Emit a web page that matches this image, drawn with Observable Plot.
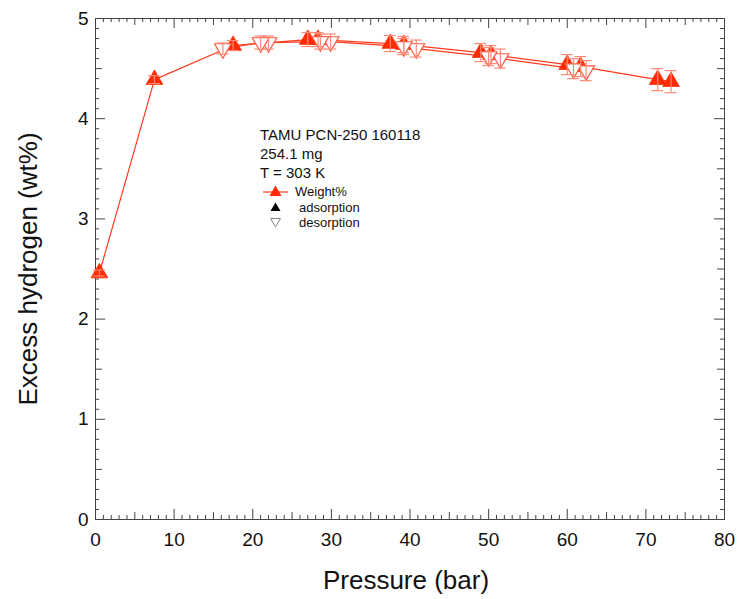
<!DOCTYPE html>
<html><head><meta charset="utf-8">
<script src="https://cdn.jsdelivr.net/npm/d3@7"></script>
<script src="https://cdn.jsdelivr.net/npm/@observablehq/plot@0.6"></script>
<style>
body{margin:0;background:#fff;}
#wrap{position:relative;width:738px;height:599px;font-family:"Liberation Sans",Arial,sans-serif;color:#111;}
.t{position:absolute;white-space:nowrap;line-height:1;}
</style></head><body>
<div id="wrap"></div>
<script>
// Adsorption branch (filled triangles)
const adsPressure = [0.5, 7.5, 17.5, 27.0, 28.3, 37.5, 39.2, 49.0, 50.3, 60.0, 61.7, 71.5, 73.2];
const adsWeight   = [2.46, 4.39, 4.73, 4.79, 4.79, 4.75, 4.74, 4.66, 4.64, 4.54, 4.52, 4.39, 4.37];
const adsError    = [0.03, 0.04, 0.05, 0.07, 0.07, 0.08, 0.08, 0.09, 0.09, 0.10, 0.10, 0.11, 0.11];
// Desorption branch (open triangles)
const desPressure = [62.4, 60.8, 51.5, 50.0, 40.8, 39.2, 29.9, 28.6, 22.0, 21.0, 16.2];
const desWeight   = [4.48, 4.50, 4.60, 4.62, 4.70, 4.72, 4.77, 4.77, 4.76, 4.76, 4.70];
const desError    = [0.10, 0.10, 0.095, 0.09, 0.085, 0.08, 0.075, 0.075, 0.065, 0.065, 0.055];
// Axis ticks
const xTickLabels = [0, 10, 20, 30, 40, 50, 60, 70, 80];
const yTickLabels = [0, 1, 2, 3, 4, 5];
// Annotation text
const infoLines = ["TAMU PCN-250 160118", "254.1 mg", "T = 303 K"];
const legendLabels = ["Weight%", "adsorption", "desorption"];

const W = 738, H = 599, mL = 95, mR = 14, mT = 18, mB = 80;
const innerW = W - mL - mR, innerH = H - mT - mB;
const red = "#ff2a00", errColor = "#ff8a78", lineColor = "#ff3b1f", axisColor = "#444";

const ads = adsPressure.map((p, i) => ({p, w: adsWeight[i], e: adsError[i]}));
const des = desPressure.map((p, i) => ({p, w: desWeight[i], e: desError[i]}));
const all = ads.concat(des);

const xMinor = d3.range(0, 81, 1).filter(v => v % 5 !== 0);
const xMid = d3.range(5, 80, 10);
const yMinor = d3.range(0, 51, 1).map(v => v / 10).filter((v, i) => i % 5 !== 0);
const yMid = d3.range(0.5, 5, 1);

function xTicks(vals, len) {
  return [
    Plot.ruleX(vals, {stroke: axisColor, insetTop: innerH - len}),
    Plot.ruleX(vals, {stroke: axisColor, insetBottom: innerH - len})
  ];
}
function yTicks(vals, len) {
  return [
    Plot.ruleY(vals, {stroke: axisColor, insetRight: innerW - len}),
    Plot.ruleY(vals, {stroke: axisColor, insetLeft: innerW - len})
  ];
}

const chart = Plot.plot({
  width: W, height: H,
  marginLeft: mL, marginRight: mR, marginTop: mT, marginBottom: mB,
  style: {fontFamily: "'Liberation Sans', Arial, sans-serif", background: "#fff", color: "#111", overflow: "visible"},
  x: {domain: [0, 80]},
  y: {domain: [0, 5]},
  marks: [
    ...xTicks(xMinor, 4), ...xTicks(xMid, 7), ...xTicks(xTickLabels, 10),
    ...yTicks(yMinor, 4), ...yTicks(yMid, 7), ...yTicks(yTickLabels, 10),
    Plot.frame({stroke: axisColor}),
    Plot.axisX(xTickLabels, {tickSize: 0, tickPadding: 13, fontSize: 19, label: null, tickFormat: d => String(d)}),
    Plot.axisY(yTickLabels, {tickSize: 0, tickPadding: 7, fontSize: 19, label: null, tickFormat: d => String(d)}),
    Plot.text(["Pressure (bar)"], {frameAnchor: "bottom", dx: -4, dy: 61, fontSize: 26, lineAnchor: "middle", textAnchor: "middle"}),
    Plot.text(["Excess hydrogen (wt%)"], {frameAnchor: "left", dx: -67, rotate: -90, fontSize: 26, lineAnchor: "middle", textAnchor: "middle"}),
    Plot.line(ads, {x: "p", y: "w", stroke: lineColor, strokeWidth: 1.2}),
    Plot.line(des, {x: "p", y: "w", stroke: lineColor, strokeWidth: 1.2}),
    Plot.dot(ads, {x: "p", y: "w", symbol: "triangle", r: 6.2, fill: red, stroke: red, strokeWidth: 0.8}),
    Plot.dot(des, {x: "p", y: "w", symbol: "triangle", rotate: 180, r: 6.2, fill: "white", stroke: "#ff5a40", strokeWidth: 1.2}),
    Plot.ruleX(all, {x: "p", y1: d => d.w - d.e, y2: d => d.w + d.e, stroke: errColor, strokeWidth: 1.2}),
    Plot.ruleY(all, {y: d => d.w + d.e, x1: d => d.p - 0.75, x2: d => d.p + 0.75, stroke: errColor, strokeWidth: 1.2}),
    Plot.ruleY(all, {y: d => d.w - d.e, x1: d => d.p - 0.75, x2: d => d.p + 0.75, stroke: errColor, strokeWidth: 1.2})
  ]
});

const wrap = document.getElementById("wrap");
wrap.appendChild(chart);

// Annotation block
infoLines.forEach((s, i) => {
  const d = document.createElement("div");
  d.className = "t";
  d.style.left = "260px";
  d.style.top = (127 + i * 19) + "px";
  d.style.fontSize = "15px";
  d.textContent = s;
  wrap.appendChild(d);
});
const symbols = [
  `<svg width="30" height="14" style="position:absolute;left:0;top:0"><line x1="2" y1="8" x2="27" y2="8" stroke="${lineColor}" stroke-width="1.2"/><path d="M14.5,1.5 L20.5,12 L8.5,12 Z" fill="${red}"/></svg>`,
  `<svg width="30" height="14" style="position:absolute;left:0;top:0"><path d="M14.5,2.5 L19.5,11 L9.5,11 Z" fill="#000"/></svg>`,
  `<svg width="30" height="14" style="position:absolute;left:0;top:0"><path d="M9.5,3.5 L19.5,3.5 L14.5,12 Z" fill="#fff" stroke="#888" stroke-width="1"/></svg>`
];
const textLeft = [295, 299, 299];
legendLabels.forEach((s, i) => {
  const y = 184 + i * 15.5;
  const sym = document.createElement("div");
  sym.style.position = "absolute";
  sym.style.left = "261px";
  sym.style.top = y + "px";
  sym.innerHTML = symbols[i];
  wrap.appendChild(sym);
  const d = document.createElement("div");
  d.className = "t";
  d.style.left = textLeft[i] + "px";
  d.style.top = (y + 1) + "px";
  d.style.fontSize = "13px";
  d.textContent = s;
  wrap.appendChild(d);
});
</script>
</body></html>
